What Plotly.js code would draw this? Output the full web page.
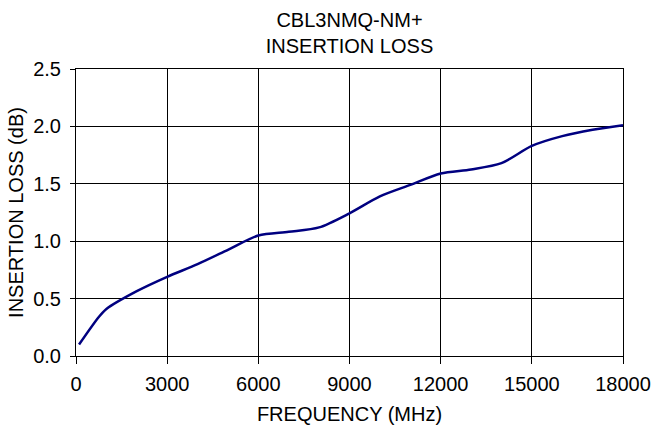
<!DOCTYPE html>
<html>
<head>
<meta charset="utf-8">
<script src="https://cdn.plot.ly/plotly-3.0.1.min.js"></script>
<style>html,body{margin:0;padding:0;background:#fff;}#chart{width:652px;height:428px;}</style>
</head>
<body>
<div id="chart"></div>
<script>
var frequencyMHz = [100, 750, 1000, 2000, 3000, 4000, 5000, 6000, 7000, 8000, 9000, 10000, 11000, 12000, 13000, 14000, 15000, 16000, 17000, 18000];
var insertionLossDb = [0.10, 0.34, 0.41, 0.565, 0.69, 0.80, 0.925, 1.05, 1.082, 1.12, 1.243, 1.39, 1.49, 1.59, 1.625, 1.68, 1.83, 1.915, 1.97, 2.01];
var xTicks = [0, 3000, 6000, 9000, 12000, 15000, 18000];
var yTicks = [0.0, 0.5, 1.0, 1.5, 2.0, 2.5];

var fontFam = 'Liberation Sans, Arial, sans-serif';
var fs = 20;
var trace = {
  x: frequencyMHz,
  y: insertionLossDb,
  type: 'scatter',
  mode: 'lines',
  line: {color: '#000080', width: 2.5, shape: 'spline', smoothing: 0.8},
  hoverinfo: 'skip'
};
var layout = {
  width: 652, height: 428,
  margin: {l: 76, r: 29, t: 69, b: 72},
  paper_bgcolor: '#fff', plot_bgcolor: '#fff',
  showlegend: false,
  font: {family: fontFam, size: fs, color: '#000'},
  title: {text: 'CBL3NMQ-NM+<br>INSERTION LOSS', font: {family: fontFam, size: fs, color: '#000'}, x: 0.5, xref: 'paper', xanchor: 'center', y: 0.937, yref: 'container', yanchor: 'middle'},
  xaxis: {
    range: [0, 18000], tickvals: xTicks, ticktext: xTicks.map(String),
    showgrid: true, gridcolor: '#000', gridwidth: 1,
    showline: true, linecolor: '#000', linewidth: 1, mirror: true,
    ticks: 'outside', ticklen: 7, tickcolor: '#000', tickwidth: 1,
    ticklabelstandoff: 3,
    zeroline: false,
    tickfont: {family: fontFam, size: fs, color: '#000'},
    title: {text: 'FREQUENCY (MHz)', font: {family: fontFam, size: fs, color: '#000'}, standoff: 12}
  },
  yaxis: {
    range: [0, 2.5], tickvals: yTicks, ticktext: yTicks.map(function(v){return v.toFixed(1);}),
    showgrid: true, gridcolor: '#000', gridwidth: 1,
    showline: true, linecolor: '#000', linewidth: 1, mirror: true,
    ticks: 'outside', ticklen: 5, tickcolor: '#000', tickwidth: 1,
    ticklabelstandoff: 5,
    zeroline: false,
    tickfont: {family: fontFam, size: fs, color: '#000'},
    title: {text: 'INSERTION LOSS (dB)', font: {family: fontFam, size: fs, color: '#000'}, standoff: 4}
  }
};
Plotly.newPlot('chart', [trace], layout, {displayModeBar: false, staticPlot: true});
</script>
</body>
</html>
